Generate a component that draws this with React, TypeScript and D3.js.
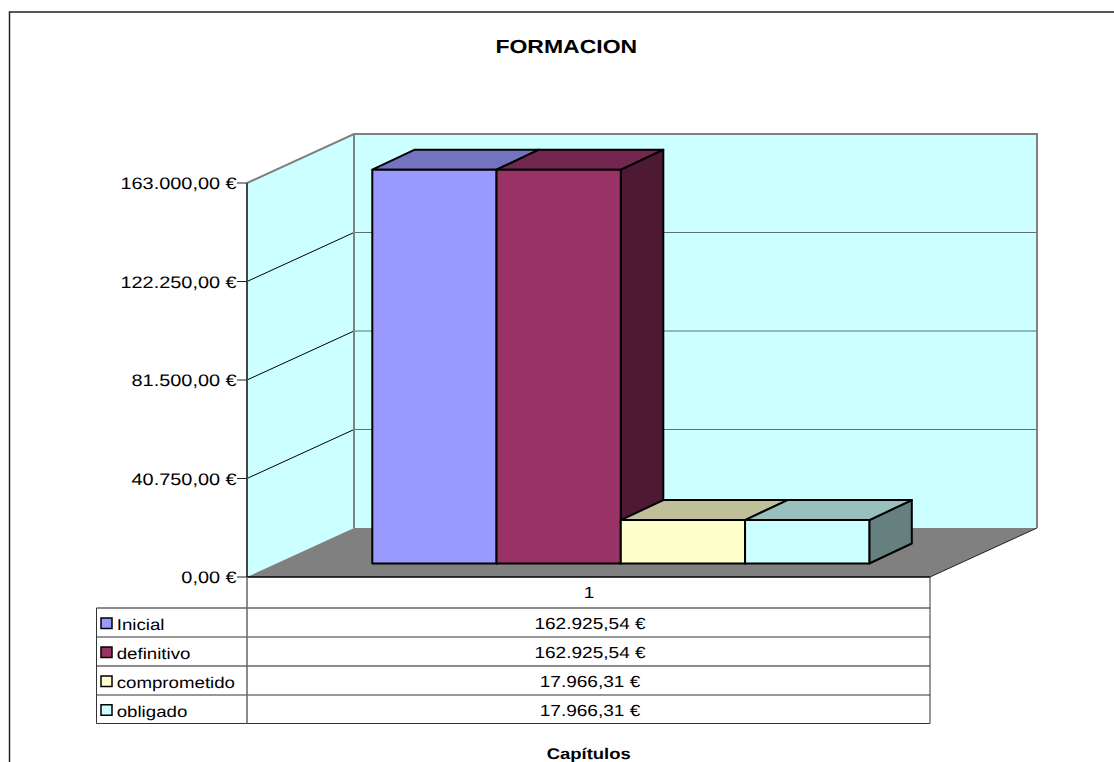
import React from "react";
import * as d3 from "d3";

const title = "FORMACION";
const xTitle = "Capítulos";
const category = "1";
const seriesNames = ["Inicial", "definitivo", "comprometido", "obligado"];
const seriesValues = [162925.54, 162925.54, 17966.31, 17966.31];
const frontColors = ["#9999FF", "#993366", "#FFFFCC", "#CCFFFF"];
const topColors = ["#7373BF", "#732650", "#BFBF99", "#99BFBF"];
const sideColors = ["#4D1933", "#4D1933", "#808066", "#668080"];
const yTicks = [0, 40750, 81500, 122250, 163000];

const locale = d3.formatLocale({ decimal: ",", thousands: ".", grouping: [3], currency: ["", " €"] });
const euro = (v: number) => locale.format(",.2f")(v) + " €";

const FONT = "'Liberation Sans', Arial, sans-serif";
const plotL = 247, plotR = 930, plotBottom = 577, plotTop = 183;
const depthX = 107, depthY = -49;
const barBase = 563.5, barX0 = 372.3, barW = 124.25, barDX = 42.5, barDY = -20;
const tableL = 96.5;
const rowY = [577, 608, 637, 666, 695, 723.5];

const y = d3.scaleLinear().domain([0, 163000]).range([plotBottom, plotTop]);
const h = d3.scaleLinear().domain([0, 163000]).range([0, plotBottom - plotTop]);
const band = d3.scaleBand<number>().domain(d3.range(seriesValues.length)).range([barX0, barX0 + barW * seriesValues.length]);
const poly = d3.line<[number, number]>().curve(d3.curveLinearClosed);

function T({ x, y, size, anchor = "start", bold, sx = 1.19, children }: any) {
  return (
    <text transform={`translate(${x},${y}) scale(${sx},1)`} fontSize={size} fontFamily={FONT}
      textAnchor={anchor} fontWeight={bold ? 700 : 400} fill="#000" textRendering="geometricPrecision">{children}</text>
  );
}

export default function App() {
  const yb = y(0) + depthY;
  const yTop = y(163000) + depthY;
  const backL = plotL + depthX, backR = plotR + depthX;
  return (
    <svg width={1114} height={762} viewBox="0 0 1114 762" style={{ position: "fixed", left: 0, top: 0, display: "block", background: "#fff" }}>
      <path d="M1114,12H9.5V762" fill="none" stroke="#222" strokeWidth={1.5} />
      <T x={566.3} y={53.2} size={19} anchor="middle" bold sx={1.21}>{title}</T>

      {/* walls */}
      <path d={poly([[plotL, plotBottom], [backL, yb], [backL, yTop], [plotL, plotTop]])!} fill="#CCFFFF" />
      <rect x={backL} y={yTop} width={backR - backL} height={yb - yTop} fill="#CCFFFF" />
      <path d={poly([[plotL, plotBottom], [backL, yb], [backR, yb], [plotR, plotBottom]])!} fill="#808080" />
      {yTicks.slice(1, -1).map((t) => (
        <g key={t}>
          <line x1={backL} x2={backR} y1={y(t) + depthY} y2={y(t) + depthY} stroke="#5f7070" strokeWidth={1} />
          <line x1={plotL} x2={backL} y1={y(t)} y2={y(t) + depthY} stroke="#000" strokeWidth={1} />
        </g>
      ))}
      <path d={`M${plotL},${plotTop}L${backL},${yTop}H${backR}V${yb}M${backL},${yTop}V${yb}`} fill="none" stroke="#808080" strokeWidth={2} />
      <path d={`M${backR},${yb}L${plotR},${plotBottom}`} stroke="#222" strokeWidth={1} />

      {/* axis */}
      <line x1={plotL} x2={plotL} y1={plotTop} y2={plotBottom} stroke="#444" strokeWidth={2} />
      {yTicks.map((t) => (
        <g key={t}>
          <line x1={plotL - 10} x2={plotL} y1={y(t)} y2={y(t)} stroke="#222" strokeWidth={1} />
          <T x={236.7} y={y(t) + 6} size={16.6} anchor="end" sx={1.2}>{euro(t)}</T>
        </g>
      ))}

      {/* bars */}
      {seriesValues.map((v, i) => {
        const x0 = band(i)!, x1 = x0 + band.bandwidth();
        const top = barBase - h(v);
        return (
          <g key={i} stroke="#000" strokeWidth={2} strokeLinejoin="round">
            <path d={poly([[x1, barBase], [x1 + barDX, barBase + barDY], [x1 + barDX, top + barDY], [x1, top]])!} fill={sideColors[i]} />
            <path d={poly([[x0, top], [x0 + barDX, top + barDY], [x1 + barDX, top + barDY], [x1, top]])!} fill={topColors[i]} />
            <rect x={x0} y={top} width={x1 - x0} height={barBase - top} fill={frontColors[i]} />
          </g>
        );
      })}

      {/* data table */}
      <g stroke="#333" strokeWidth={1}>
        <line x1={plotL} x2={plotR} y1={plotBottom} y2={plotBottom} stroke="#000" strokeWidth={1.4} />
        {rowY.slice(1).map((r, i) => (
          <line key={r} x1={tableL} x2={plotR} y1={r} y2={r} stroke={i % 2 === 0 && i < 4 ? "#666" : "#333"} strokeWidth={i % 2 === 0 && i < 4 ? 1.5 : 1} />
        ))}
        <line x1={tableL} x2={tableL} y1={rowY[1]} y2={rowY[5]} />
        <line x1={plotL} x2={plotL} y1={plotBottom} y2={rowY[5]} stroke="#666" strokeWidth={1.5} />
        <line x1={plotR} x2={plotR} y1={plotBottom} y2={rowY[5]} />
      </g>
      <T x={589} y={598} size={16} anchor="middle">{category}</T>
      {seriesNames.map((n, i) => {
        const cy = (rowY[i + 1] + rowY[i + 2]) / 2;
        return (
          <g key={n}>
            <rect x={101} y={cy - 4.5} width={11} height={10.5} fill={frontColors[i]} stroke="#000" strokeWidth={1.5} />
            <T x={116.7} y={cy + 7.7} size={15.7}>{n}</T>
            <T x={590} y={cy + 6.8} size={16} anchor="middle">{euro(seriesValues[i])}</T>
          </g>
        );
      })}
      <T x={588.7} y={758.8} size={15.5} anchor="middle" bold>{xTitle}</T>
    </svg>
  );
}
